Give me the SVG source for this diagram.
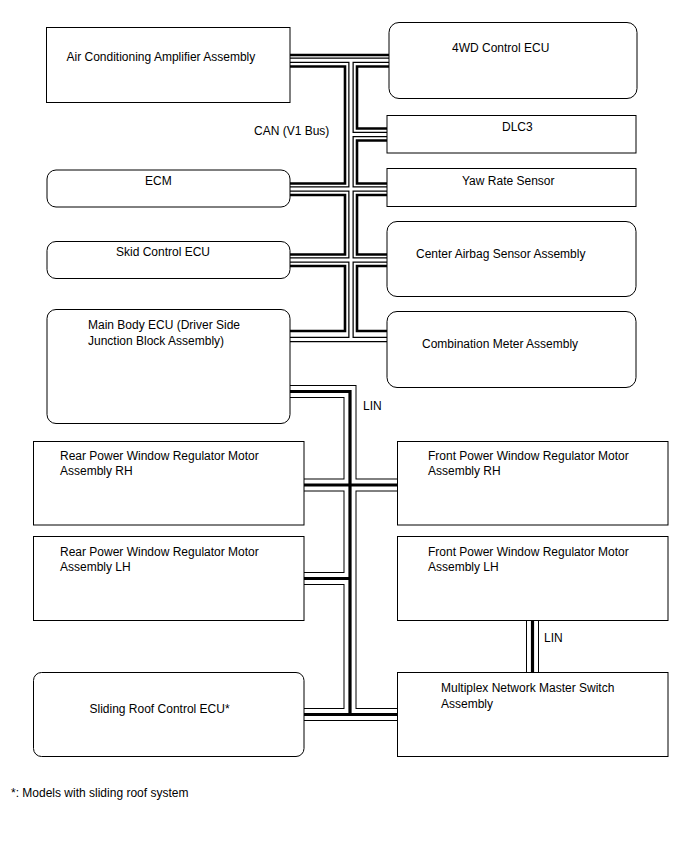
<svg xmlns="http://www.w3.org/2000/svg" width="688" height="852" viewBox="0 0 688 852">
<defs>
<style>
.box{fill:#fff;stroke:#000;stroke-width:1}
.t{font-family:"Liberation Sans",Arial,sans-serif;font-size:12px;fill:#000}
.hb{fill:none;stroke:#000;stroke-width:5.5}
.hw{fill:none;stroke:#fff;stroke-width:3}
.th{fill:none;stroke:#000;stroke-width:2.6}
.lb{fill:none;stroke:#000;stroke-width:13}
.lw{fill:none;stroke:#fff;stroke-width:11}
.lt{fill:none;stroke:#000;stroke-width:3.2}
</style>
</defs>
<rect width="688" height="852" fill="#fff"/>
<g id="connectors">
<!-- CAN hollow conductor -->
<g>
<path class="hb" d="M290,60.3H389M351,60.3V339.5M351,134.5H387M290,189H387M290,260H387M290,339.5H387"/>
<path class="hw" d="M290,60.3H389M351,60.3V339.5M351,134.5H387M290,189H387M290,260H387M290,339.5H387"/>
</g>
<!-- CAN solid conductor -->
<path class="th" d="M290,55H389"/>
<path class="th" d="M290,66.5H345V183.5H290M290,195H345V254.5H290M290,266H345V331H290"/>
<path class="th" d="M389,66.5H357V128.5H387M387,140.5H357V183.5H387M387,195H357V254.5H387M387,266H357V331H387"/>
<!-- LIN -->
<g>
<path class="lb" d="M290,391.5H350V714.5M304,485H397M304,578.5H350M304,714.5H397M532.5,621V672"/>
<path class="lw" d="M290,391.5H350V714.5M304,485H397M304,578.5H350M304,714.5H397M532.5,621V672"/>
<path class="lt" d="M290,391.5H350V714.5M304,485H397M304,578.5H350M304,714.5H397M532.5,621V672"/>
</g>
<text class="t" x="254" y="135">CAN (V1 Bus)</text>
<text class="t" x="363" y="410">LIN</text>
<text class="t" x="544" y="642">LIN</text>
</g>
<g id="ac"><rect class="box" x="46.5" y="27.5" width="243.5" height="75"/><text class="t" x="66.5" y="60.5">Air Conditioning Amplifier Assembly</text></g>
<g id="fwd"><rect class="box" x="389" y="22.5" width="248" height="76" rx="10"/><text class="t" x="452" y="52">4WD Control ECU</text></g>
<g id="dlc3"><rect class="box" x="387" y="115.5" width="249" height="37.5"/><text class="t" x="502" y="131">DLC3</text></g>
<g id="ecm"><rect class="box" x="47" y="170" width="243" height="37" rx="9"/><text class="t" x="145" y="185">ECM</text></g>
<g id="yaw"><rect class="box" x="387" y="168.5" width="249" height="38"/><text class="t" x="462" y="184.5">Yaw Rate Sensor</text></g>
<g id="skid"><rect class="box" x="47" y="241.5" width="243" height="37" rx="9"/><text class="t" x="116" y="256">Skid Control ECU</text></g>
<g id="airbag"><rect class="box" x="387" y="221.5" width="249" height="75" rx="10"/><text class="t" x="416" y="258">Center Airbag Sensor Assembly</text></g>
<g id="mainbody"><rect class="box" x="47" y="309.5" width="243" height="114" rx="9"/><text class="t" x="88" y="329">Main Body ECU (Driver Side</text><text class="t" x="88" y="345">Junction Block Assembly)</text></g>
<g id="meter"><rect class="box" x="387" y="311.5" width="249" height="76" rx="10"/><text class="t" x="422" y="348">Combination Meter Assembly</text></g>
<g id="rearrh"><rect class="box" x="33.5" y="441.5" width="270.5" height="83.5"/><text class="t" x="60" y="460">Rear Power Window Regulator Motor</text><text class="t" x="60" y="475">Assembly RH</text></g>
<g id="frontrh"><rect class="box" x="397.5" y="441.5" width="270.5" height="83.5"/><text class="t" x="428" y="460">Front Power Window Regulator Motor</text><text class="t" x="428" y="475">Assembly RH</text></g>
<g id="rearlh"><rect class="box" x="33.5" y="536.5" width="270.5" height="84"/><text class="t" x="60" y="556">Rear Power Window Regulator Motor</text><text class="t" x="60" y="571">Assembly LH</text></g>
<g id="frontlh"><rect class="box" x="397.5" y="536.5" width="270.5" height="84"/><text class="t" x="428" y="556">Front Power Window Regulator Motor</text><text class="t" x="428" y="571">Assembly LH</text></g>
<g id="sliding"><rect class="box" x="33.5" y="672.5" width="270.5" height="84" rx="8"/><text class="t" x="89.5" y="713">Sliding Roof Control ECU*</text></g>
<g id="multiplex"><rect class="box" x="397.5" y="672.5" width="270.5" height="84"/><text class="t" x="441" y="692">Multiplex Network Master Switch</text><text class="t" x="441" y="708">Assembly</text></g>
<text class="t" x="11" y="797">*: Models with sliding roof system</text>
</svg>
